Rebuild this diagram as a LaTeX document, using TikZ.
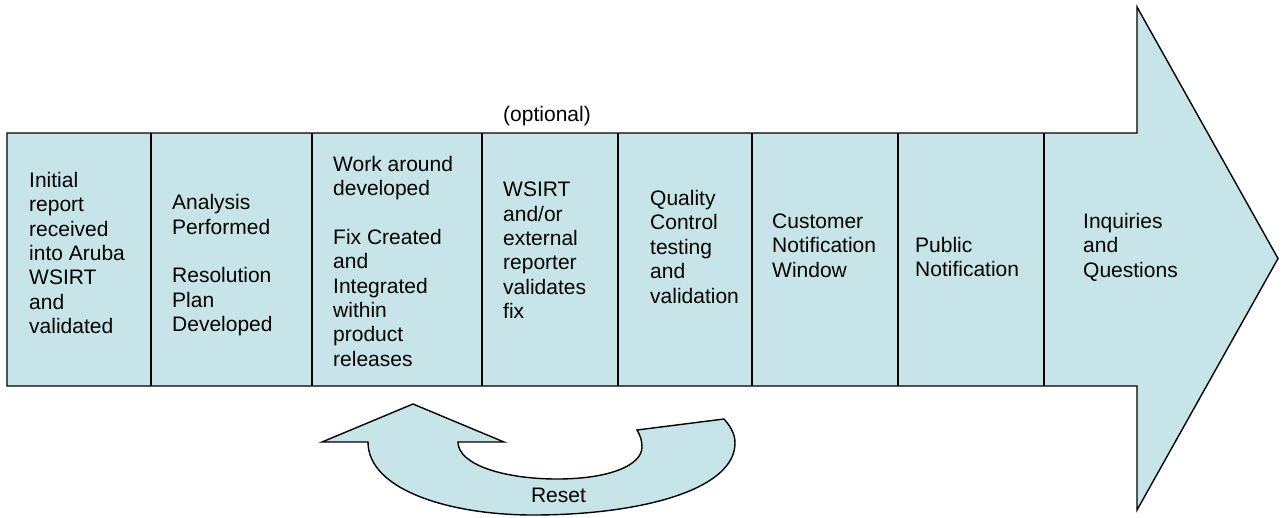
\documentclass[tikz,border=0pt]{standalone}
\usepackage{fontspec}
\setmainfont{Liberation Sans}
\definecolor{cellfill}{RGB}{199,229,233}
\begin{document}
\begin{tikzpicture}[x=1pt,y=-1pt,
  shapeline/.style={draw=black,line width=1.4pt,fill=cellfill,line join=miter},
  divline/.style={draw=black,line width=1.4pt},
  celltext/.style={anchor=base west,inner sep=0pt,align=left,
    font=\fontsize{21}{24.4}\selectfont}]
\useasboundingbox (0,0) rectangle (1282,517);
% big arrow
\path[shapeline] (7,133) -- (1137,133) -- (1137,7) -- (1278,258.5) -- (1137,510)
  -- (1137,386) -- (7,386) -- cycle;
\foreach \xx in {151,312,482,618,752,898,1044}
  \draw[divline] (\xx,133) -- (\xx,386);
% reset arrow
\path[shapeline] (322,442) -- (413,404) -- (504,442) -- (458,442)
  .. controls (458,465) and (505,479) .. (557,479)
  .. controls (610,479) and (642,465) .. (642,447)
  .. controls (642,440) and (640,435) .. (637,430)
  -- (724,419)
  .. controls (730,426) and (735,433) .. (735,443)
  .. controls (735,490) and (640,515) .. (533,515)
  .. controls (450,515) and (368,490) .. (368,442)
  -- cycle;
% texts (base anchor = baseline of last line)
\node[celltext] (c1) at (29,333.7) {Initial\\report\\received\\into Aruba\\WSIRT\\and\\validated};
\node[celltext] (c2) at (172,331.7) {Analysis\\Performed\\[24.4pt]Resolution\\Plan\\Developed};
\node[celltext] (c3) at (333,366.2) {Work around\\developed\\[24.4pt]Fix Created\\and\\Integrated\\within\\product\\releases};
\node[celltext] (c4) at (503,318.7) {WSIRT\\and/or\\external\\reporter\\validates\\fix};
\node[celltext] (c5) at (650,303.1) {Quality\\Control\\testing\\and\\validation};
\node[celltext] (c6) at (772,277.1) {Customer\\Notification\\Window};
\node[celltext] (c7) at (915,276.9) {Public\\Notification};
\node[celltext] (c8) at (1083,277.1) {Inquiries\\and\\Questions};
\node[celltext,anchor=base] (opt) at (547,121) {(optional)};
\node[celltext,anchor=base] (reset) at (558.5,502.5) {Reset};
\end{tikzpicture}
\end{document}
